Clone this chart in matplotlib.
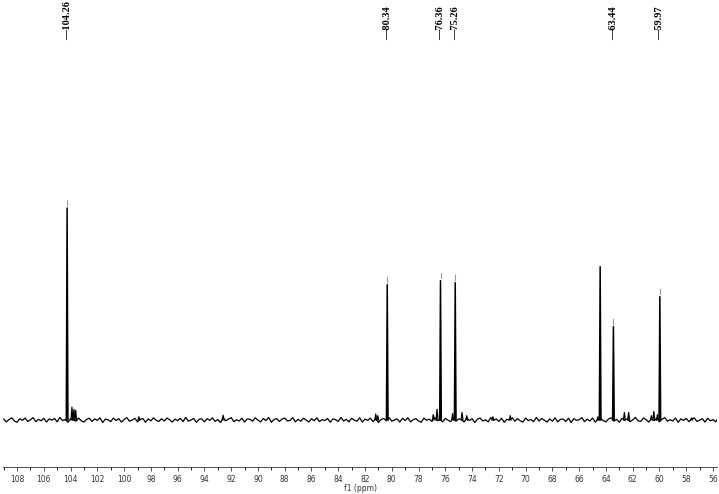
import numpy as np
import matplotlib.pyplot as plt
from matplotlib.ticker import MultipleLocator
from matplotlib.transforms import blended_transform_factory

# main peaks (ppm, relative intensity)
peak_ppm = [104.26, 80.34, 76.36, 75.26, 64.43, 63.44, 59.97]
peak_int = [100.0, 63.8, 65.7, 64.8, 72.3, 44.1, 58.2]

# peaks that carry a label on top
label_ppm = [104.26, 80.34, 76.36, 75.26, 63.44, 59.97]
label_txt = ["104.26", "80.34", "76.36", "75.26", "63.44", "59.97"]

# small impurity / satellite peaks
small_ppm = [103.90, 103.75, 103.62, 98.9, 92.6, 81.2, 81.05, 76.9, 76.62,
             75.45, 74.75, 74.4, 72.45, 71.15, 64.6, 62.62, 62.3, 60.6,
             60.42, 60.15, 57.6]
small_int = [6.0, 5.0, 4.5, 1.5, 2.2, 2.8, 2.0, 2.5, 5.0,
             3.0, 3.5, 2.0, 1.5, 2.0, 1.5, 3.5, 3.5, 2.0,
             4.0, 2.5, 1.0]

# baseline noise, one value every 0.2 ppm starting at 109.0 ppm
noise_start = 109.0
noise_step = 0.2
noise = [
    0.4, -0.9, 0.2, 1.0, -0.5, -1.1, 0.6, -0.2, 0.9, -0.7, 0.1, 1.1, -0.8, 0.3, -0.4,
    0.8, -1.0, 0.5, -0.1, 0.7, -0.9, 1.2, -0.3, 0.2, -1.1, 0.6, 0.0, -0.6, 0.9, -0.4,
    -1.0, 0.3, 0.8, -0.7, 0.5, -0.2, 1.0, -1.2, 0.4, 0.1, -0.8, 0.9, -0.3, 0.6, -1.0,
    0.2, 1.1, -0.6, -0.1, 0.8, -0.9, 0.3, 0.7, -1.1, 0.5, -0.4, 1.0, -0.2, -0.7, 0.6,
    -0.5, 0.9, 0.1, -1.0, 0.4, -0.3, 0.8, -0.8, 1.2, -0.6, 0.0, 0.7, -1.1, 0.3, 0.5,
    -0.9, 0.6, -0.2, 1.0, -0.7, 0.2, -1.2, 0.9, -0.4, 0.4, 1.1, -0.8, 0.1, -0.5, 0.8,
    -1.0, 0.5, 0.3, -0.6, 1.0, -0.1, -0.9, 0.7, -0.3, 1.2, -1.1, 0.2, 0.6, -0.7, 0.4,
    0.9, -0.5, -0.2, 1.1, -0.9, 0.3, -0.6, 0.8, 0.0, -1.0, 0.6, -0.4, 1.0, -0.8, 0.2,
    -0.3, 0.7, -1.1, 0.5, 0.1, -0.7, 1.2, -0.5, 0.3, -0.9, 0.8, -0.1, -0.6, 1.0, -1.0,
    0.4, -0.2, 0.9, -0.8, 0.6, -1.2, 0.2, 0.7, -0.4, 1.1, -0.6, 0.0, 0.5, -1.0, 0.8,
    -0.3, 1.0, -0.9, 0.1, 0.6, -0.5, -1.1, 0.9, -0.2, 0.4, -0.7, 1.2, -0.4, 0.3, -0.9,
    0.7, -0.1, -0.8, 1.0, -0.6, 0.5, 0.2, -1.0, 0.8, -0.3, 0.6, -1.2, 0.4, 0.9, -0.5,
    0.1, -0.9, 1.1, -0.2, 0.5, -0.7, 0.8, -1.1, 0.3, 0.0, 1.0, -0.6, 0.6, -0.4, -1.0,
    0.9, -0.3, 0.2, -0.8, 1.2, -0.5, 0.7, -0.1, -1.0, 0.5, -0.6, 1.0, -0.9, 0.3, 0.4,
    -0.7, 0.8, -1.2, 0.6, -0.2, 0.1, 1.1, -0.8, 0.4, -0.5, 0.9, -1.0, 0.2, 0.7, -0.3,
    -0.9, 0.5, 1.0, -0.6, 0.3, -1.1, 0.8, -0.2, 0.6, -0.8, 0.0, 1.2, -0.4, -0.7, 0.9,
    0.2, -1.0, 0.6, -0.3, 0.8, -0.9, 0.4, 1.1, -0.6, 0.1, -0.5, 0.9, -1.1, 0.5, -0.2,
    0.7, -0.8, 0.3, 1.0, -0.7, -0.1, 0.6, -1.0, 0.8, -0.4, 0.2, -0.9, 1.1, -0.3, 0.5,
]

noise_ppm = noise_start - noise_step * np.arange(len(noise))

fig = plt.figure(figsize=(7.19, 4.94), dpi=100)
ax = fig.add_axes([3 / 719, 27 / 494, 714 / 719, 422 / 494])

ax.plot(noise_ppm, noise, color="black", linewidth=0.9)

hw = 0.06
for p, h in zip(peak_ppm, peak_int):
    ax.plot([p + hw, p, p - hw], [0, h, 0], color="black", linewidth=1.1)
for p, h in zip(small_ppm, small_int):
    ax.plot([p + 0.07, p, p - 0.07], [0, h, 0], color="black", linewidth=0.9)

# peak-pick marks above labelled peaks
for p in label_ppm:
    h = peak_int[peak_ppm.index(p)]
    ax.plot([p, p], [h + 1.2, h + 3.6], color="#999999", linewidth=0.8)

trans = blended_transform_factory(ax.transData, fig.transFigure)
for p, t in zip(label_ppm, label_txt):
    ax.text(p, 1 - 40 / 494, "\u2014" + t, transform=trans, rotation=90,
            ha="center", va="bottom", fontsize=7.5, family="Liberation Serif",
            fontweight="bold", color="black")

ax.set_xlim(109.05, 55.7)
ax.set_ylim(-22.2, 176.9)
ax.xaxis.set_major_locator(MultipleLocator(2))
ax.xaxis.set_minor_locator(MultipleLocator(1))
ax.tick_params(axis="x", which="major", length=3, width=0.6, labelsize=5.5,
               pad=3, colors="#333333")
ax.tick_params(axis="x", which="minor", length=2, width=0.6)
ax.set_yticks([])
for s in ["top", "left", "right"]:
    ax.spines[s].set_visible(False)
ax.spines["bottom"].set_linewidth(0.6)
ax.spines["bottom"].set_color("#333333")
ax.set_xlabel("f1 (ppm)", fontsize=5.5, labelpad=0, color="#333333")
ax.patch.set_alpha(0)

fig.savefig("out.png", dpi=100)
